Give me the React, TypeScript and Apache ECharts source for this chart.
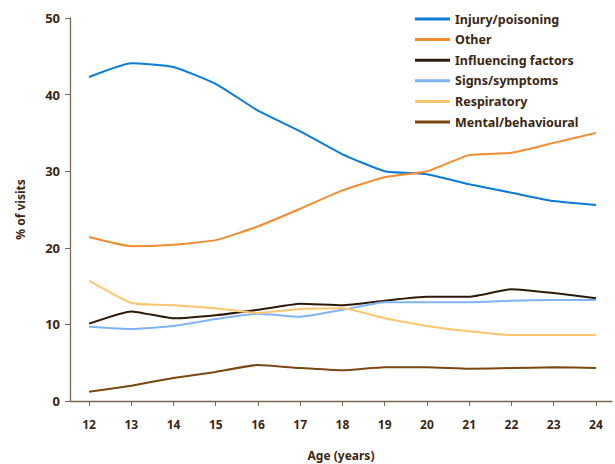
import React, { useEffect, useRef } from "react";
import * as echarts from "echarts";

const ages = [12, 13, 14, 15, 16, 17, 18, 19, 20, 21, 22, 23, 24];
const injury = [42.3, 44.1, 43.6, 41.4, 37.9, 35.2, 32.2, 30.0, 29.6, 28.3, 27.2, 26.1, 25.6];
const other = [21.4, 20.2, 20.4, 21.0, 22.8, 25.1, 27.5, 29.2, 30.0, 32.1, 32.4, 33.7, 35.0];
const influencing = [10.1, 11.7, 10.8, 11.2, 11.9, 12.7, 12.5, 13.1, 13.6, 13.6, 14.6, 14.1, 13.4];
const signs = [9.7, 9.4, 9.8, 10.7, 11.4, 11.0, 11.9, 12.9, 12.9, 12.9, 13.1, 13.2, 13.2];
const respiratory = [15.7, 12.8, 12.5, 12.1, 11.5, 12.0, 12.1, 10.8, 9.8, 9.1, 8.6, 8.6, 8.6];
const mental = [1.2, 2.0, 3.0, 3.8, 4.7, 4.3, 4.0, 4.4, 4.4, 4.2, 4.3, 4.4, 4.3];
const yTicks = [0, 10, 20, 30, 40, 50];

const seriesDefs = [
  { name: "Injury/poisoning", data: injury, color: "#0a7bd6" },
  { name: "Other", data: other, color: "#f28c2e" },
  { name: "Influencing factors", data: influencing, color: "#2e1a08" },
  { name: "Signs/symptoms", data: signs, color: "#80b4f4" },
  { name: "Respiratory", data: respiratory, color: "#fdc56e" },
  { name: "Mental/behavioural", data: mental, color: "#7a4710" },
];

const textColor = "#3b2612";
const axisColor = "#7d6650";
const font = "'Noto Sans', sans-serif";

export default function App() {
  const ref = useRef<HTMLDivElement>(null);
  useEffect(() => {
    if (!ref.current) return;
    const chart = echarts.init(ref.current, null, { renderer: "svg" });
    chart.setOption({
      animation: false,
      textStyle: { fontFamily: font },
      legend: {
        orient: "vertical",
        left: 410,
        top: 7,
        icon: "rect",
        itemWidth: 35,
        itemHeight: 3,
        itemGap: 6.6,
        textStyle: { color: textColor, fontWeight: "bold", fontSize: 12.5, lineHeight: 14, fontFamily: font },
        data: seriesDefs.map((s) => s.name),
      },
      grid: { left: 70, right: 3, top: 18, bottom: 63, containLabel: false, outerBoundsMode: "none" },
      xAxis: {
        type: "value",
        min: 11.55,
        max: 24.38,
        name: "Age (years)",
        nameLocation: "middle",
        nameGap: 48,
        nameTextStyle: { color: textColor, fontWeight: "bold", fontSize: 12 },
        splitLine: { show: false },
        axisLine: { show: true, onZero: false, lineStyle: { color: axisColor, width: 1.3 } },
        axisTick: { show: true, length: 5, lineStyle: { color: axisColor }, customValues: ages },
        axisLabel: {
          color: textColor,
          fontWeight: "bold",
          fontSize: 12,
          margin: 17,
          customValues: ages,
          formatter: (v: number) => String(Math.round(v)),
        },
      },
      yAxis: {
        type: "value",
        min: 0,
        max: 50,
        interval: 10,
        name: "% of visits",
        nameLocation: "middle",
        nameGap: 44,
        nameRotate: 90,
        nameTextStyle: { color: textColor, fontWeight: "bold", fontSize: 12 },
        splitLine: { show: false },
        axisLine: { show: true, lineStyle: { color: axisColor, width: 1.3 } },
        axisTick: { show: true, length: 5, lineStyle: { color: axisColor } },
        axisLabel: {
          color: textColor,
          fontWeight: "bold",
          fontSize: 13,
          margin: 10,
          customValues: yTicks,
        },
      },
      series: seriesDefs.map((s) => ({
        name: s.name,
        type: "line",
        data: s.data.map((v, i) => [ages[i], v]),
        smooth: 0.15,
        showSymbol: false,
        symbol: "none",
        color: s.color,
        lineStyle: { color: s.color, width: 2 },
      })),
    });
    return () => chart.dispose();
  }, []);
  return <div ref={ref} style={{ width: 615, height: 464, position: "absolute", left: 0, top: 0 }} />;
}
